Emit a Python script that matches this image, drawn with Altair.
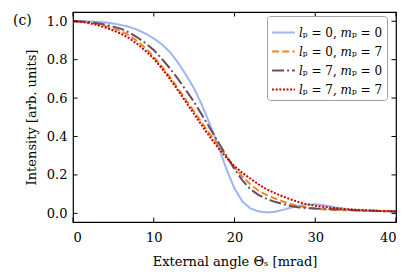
import altair as alt
import pandas as pd

angle = list(range(0, 41))
blue = [1.0, 1.0, 0.999, 0.997, 0.994, 0.988, 0.98, 0.97, 0.955, 0.935, 0.91, 0.88, 0.84, 0.785, 0.72, 0.65, 0.56,
        0.46, 0.35, 0.23, 0.13, 0.06, 0.025, 0.01, 0.005, 0.008, 0.018, 0.03, 0.04, 0.046, 0.047, 0.043, 0.035,
        0.027, 0.02, 0.016, 0.014, 0.013, 0.012, 0.011, 0.01]
orange = [1.0, 0.998, 0.993, 0.985, 0.975, 0.963, 0.948, 0.925, 0.895, 0.86, 0.815, 0.765, 0.71, 0.65, 0.59, 0.53,
          0.47, 0.41, 0.355, 0.295, 0.24, 0.19, 0.15, 0.118, 0.095, 0.078, 0.062, 0.048, 0.037, 0.03, 0.025, 0.021,
          0.019, 0.017, 0.016, 0.015, 0.014, 0.013, 0.012, 0.011, 0.01]
purple = [1.0, 0.999, 0.996, 0.99, 0.982, 0.972, 0.96, 0.94, 0.915, 0.885, 0.85, 0.805, 0.755, 0.7, 0.64, 0.58,
          0.51, 0.44, 0.37, 0.3, 0.23, 0.17, 0.125, 0.095, 0.075, 0.06, 0.048, 0.038, 0.031, 0.027, 0.025, 0.024,
          0.022, 0.02, 0.018, 0.016, 0.014, 0.013, 0.012, 0.011, 0.01]
red = [1.0, 0.997, 0.99, 0.98, 0.967, 0.952, 0.934, 0.91, 0.88, 0.845, 0.805, 0.755, 0.70, 0.64, 0.578, 0.517,
       0.455, 0.395, 0.34, 0.29, 0.245, 0.21, 0.18, 0.15, 0.125, 0.105, 0.088, 0.072, 0.058, 0.047, 0.04, 0.034,
       0.029, 0.026, 0.022, 0.019, 0.017, 0.015, 0.013, 0.012, 0.011]

series_names = ["𝑙ₚ = 0, 𝑚ₚ = 0", "𝑙ₚ = 0, 𝑚ₚ = 7", "𝑙ₚ = 7, 𝑚ₚ = 0", "𝑙ₚ = 7, 𝑚ₚ = 7"]
series_values = [blue, orange, purple, red]
colors = ["#9db5f5", "#e8891e", "#6e4a60", "#cc0000"]
dashes = [[1, 0], [7, 3.2], [12, 3, 2, 3], [2, 1.6]]

x_ticks = [0, 10, 20, 30, 40]
y_ticks = [0.0, 0.2, 0.4, 0.6, 0.8, 1.0]

rows = []
for name, vals in zip(series_names, series_values):
    for a, v in zip(angle, vals):
        rows.append({"angle": a, "intensity": v, "series": name})
df = pd.DataFrame(rows)
xt = pd.DataFrame({"t": x_ticks})
yt = pd.DataFrame({"t": y_ticks})

W, H = 323, 210
TL = 4.5
FONT = "DejaVu Serif"
xscale = alt.Scale(domain=[0, 40], nice=False, zero=False)
yscale = alt.Scale(domain=[-0.045, 1.048], nice=False, zero=False)

lines = alt.Chart(df).mark_line(strokeWidth=2, clip=True).encode(
    x=alt.X("angle:Q", scale=xscale,
            axis=alt.Axis(title="External angle Θₛ [mrad]", values=x_ticks, format="d",
                          ticks=False, domain=False, grid=False, labelPadding=9, titlePadding=11)),
    y=alt.Y("intensity:Q", scale=yscale,
            axis=alt.Axis(title="Intensity [arb. units]", values=y_ticks, format=".1f",
                          ticks=False, domain=False, grid=False, labelPadding=6, titlePadding=8)),
    color=alt.Color("series:N", sort=series_names,
                    scale=alt.Scale(domain=series_names, range=colors),
                    legend=alt.Legend(title=None, orient="none", legendX=194, legendY=4,
                                      symbolType="stroke", symbolSize=520, symbolStrokeWidth=2,
                                      labelFont=FONT, labelFontSize=12, labelColor="black",
                                      fillColor="white", strokeColor="#a0a0a0", padding=4,
                                      cornerRadius=3, rowPadding=0, labelOffset=3)),
    strokeDash=alt.StrokeDash("series:N", sort=series_names,
                              scale=alt.Scale(domain=series_names, range=dashes), legend=None),
)

tick_style = dict(color="black", strokeWidth=1)
bottom_ticks = alt.Chart(xt).mark_rule(**tick_style).encode(
    x=alt.X("t:Q", scale=xscale), y=alt.value(H), y2=alt.value(H - TL))
top_ticks = alt.Chart(xt).mark_rule(**tick_style).encode(
    x=alt.X("t:Q", scale=xscale), y=alt.value(0), y2=alt.value(TL))
left_ticks = alt.Chart(yt).mark_rule(**tick_style).encode(
    y=alt.Y("t:Q", scale=yscale), x=alt.value(0), x2=alt.value(TL))
right_ticks = alt.Chart(yt).mark_rule(**tick_style).encode(
    y=alt.Y("t:Q", scale=yscale), x=alt.value(W), x2=alt.value(W - TL))

chart = alt.layer(lines, bottom_ticks, top_ticks, left_ticks, right_ticks).properties(
    width=W, height=H, autosize="none",
    padding={"left": 65, "top": 4, "right": 12, "bottom": 50},
    title=alt.TitleParams("(c)", anchor="start", orient="top", frame="group", dx=-60, dy=20, font=FONT,
                          fontSize=14, fontWeight="normal", color="black"),
).configure_view(stroke="black", strokeWidth=1.2).configure_axis(
    labelFont=FONT, labelFontSize=13, labelColor="black", titleFont=FONT, titleFontSize=13,
    titleFontWeight="normal", titleColor="black"
)

chart.save("out.html", embed_options={"renderer": "svg", "actions": False})
